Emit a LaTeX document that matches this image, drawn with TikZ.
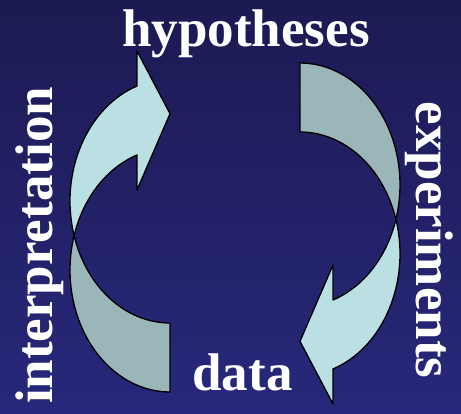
\documentclass[tikz,border=0pt]{standalone}
\usepackage{fontspec}
\setmainfont{Liberation Serif}
\definecolor{bgtop}{HTML}{1C1A52}
\definecolor{bgbot}{HTML}{28287C}
\definecolor{front}{HTML}{BAE0E3}
\definecolor{back}{HTML}{9BB6B9}
\tikzset{
  band/.style={draw=black, line width=1.3pt, line join=round},
  word/.style={text=white, font=\fontsize{53}{53}\selectfont\bfseries, inner sep=0pt, anchor=base}
}
\begin{document}
\begin{tikzpicture}[x=1pt, y=-1pt]
    \shade[top color=bgtop, bottom color=bgbot] (0, 0) rectangle (461, 414);
    \useasboundingbox (0, 0) rectangle (461, 414);
    % left arrow, going up
    \begin{scope}
      \draw[band, fill=back] (74.1, 235.6)
            arc[start angle=196.44, end angle=90, x radius=100, y radius=121.9]
            -- (170, 323)
            arc[start angle=90, end angle=163.56, x radius=100, y radius=121.9] -- cycle;
      \draw[band, fill=front] (74.1, 235.6)
            arc[start angle=163.56, end angle=250.73, x radius=100, y radius=121.9]
            -- (137, 51) -- (170, 113.7) -- (137, 190) -- (137, 155)
            arc[start angle=250.73, end angle=196.44, x radius=100, y radius=121.9] -- cycle;
    \end{scope}
    % right arrow, going down
    \begin{scope}[rotate around={180:(235, 227.5)}]
      \draw[band, fill=back] (74.1, 235.6)
            arc[start angle=196.44, end angle=90, x radius=100, y radius=121.9]
            -- (170, 323)
            arc[start angle=90, end angle=163.56, x radius=100, y radius=121.9] -- cycle;
      \draw[band, fill=front] (74.1, 235.6)
            arc[start angle=163.56, end angle=250.73, x radius=100, y radius=121.9]
            -- (137, 51) -- (170, 113.7) -- (137, 190) -- (137, 155)
            arc[start angle=250.73, end angle=196.44, x radius=100, y radius=121.9] -- cycle;
    \end{scope}
    \node[word] (hyp) at (246, 47) {hypotheses};
    \node[word] (dat) at (242.5, 390) {data};
    \node[word, rotate=90] (interp) at (52, 245.5) {interpretation};
    \node[word, rotate=-90] (exper) at (416, 240) {experiments};
\end{tikzpicture}
\end{document}
